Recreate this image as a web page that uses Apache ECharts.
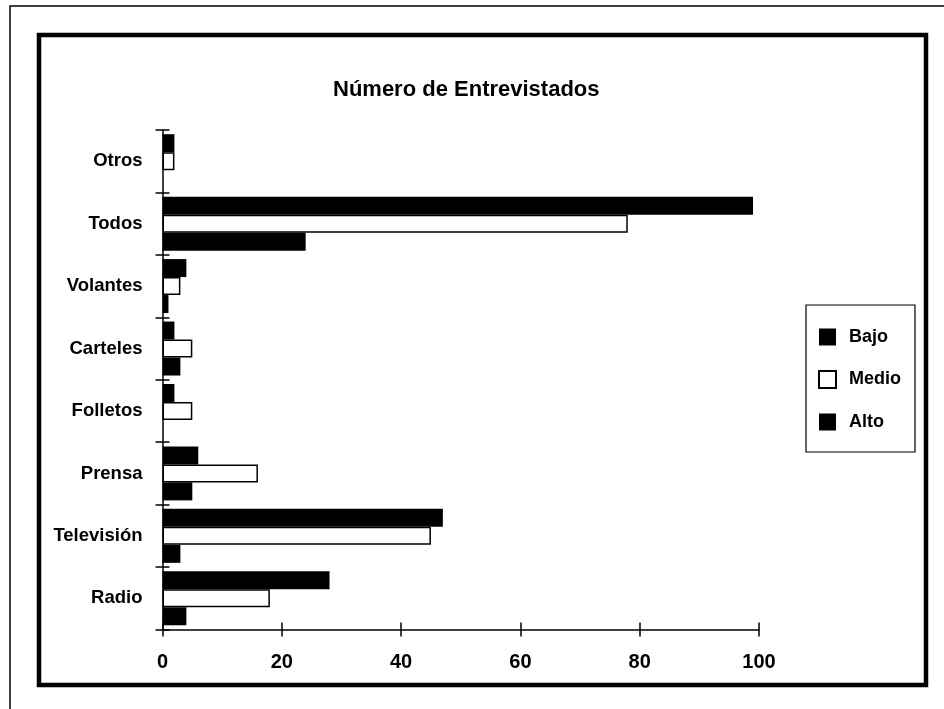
<!DOCTYPE html>
<html>
<head>
<meta charset="utf-8">
<script src="https://cdn.jsdelivr.net/npm/echarts@6/dist/echarts.min.js"></script>
<style>
  html, body { margin: 0; padding: 0; background: #fff; }
  #chart { width: 944px; height: 709px; }
</style>
</head>
<body>
<div id="chart"></div>
<script>
// categories, bottom to top like the y axis
var categories = ['Radio', 'Televisión', 'Prensa', 'Folletos', 'Carteles', 'Volantes', 'Todos', 'Otros'];
var bajo  = [28, 47, 6, 2, 2, 4, 99, 2];
var medio = [18, 45, 16, 5, 5, 3, 78, 2];
var alto  = [4, 3, 5, 0, 3, 1, 24, 0];
var xTicks = [0, 20, 40, 60, 80, 100];

var font = '"Liberation Sans", Arial, sans-serif';
var chart = echarts.init(document.getElementById('chart'));

var option = {
  animation: false,
  backgroundColor: '#fff',
  title: {
    text: 'Número de Entrevistados',
    left: 328, top: 74,
    textStyle: { fontFamily: font, fontSize: 22, fontWeight: 'bold', color: '#000' }
  },
  legend: {
    orient: 'vertical',
    left: 806, top: 305,
    data: ['Bajo', 'Medio', 'Alto'],
    itemWidth: 17, itemHeight: 17, itemGap: 24,
    padding: [23, 14, 21, 12],
    borderColor: '#000', borderWidth: 1.2,
    icon: 'rect',
    textStyle: { fontFamily: font, fontSize: 18, fontWeight: 'bold', color: '#000',
                 lineHeight: 17, padding: [0, 0, 0, 8] }
  },
  grid: { left: 162.5, right: 185, top: 130, bottom: 79.5 },
  xAxis: [{
    type: 'value', min: xTicks[0], max: xTicks[xTicks.length - 1], interval: 20,
    axisLine: { show: true, lineStyle: { color: '#000', width: 1.5 } },
    axisTick: { show: true, length: 7, lineStyle: { color: '#000', width: 1.5 } },
    axisLabel: { margin: 23, fontFamily: font, fontSize: 20, fontWeight: 'bold', color: '#000' },
    splitLine: { show: false }
  }, {
    type: 'value', position: 'bottom', min: 0, max: 100, interval: 20,
    axisLine: { show: false },
    axisTick: { show: true, inside: true, length: 7, lineStyle: { color: '#000', width: 1.5 } },
    axisLabel: { show: false },
    splitLine: { show: false }
  }],
  yAxis: [{
    type: 'category', data: categories,
    axisLine: { show: true, lineStyle: { color: '#000', width: 1.5 } },
    axisTick: { show: true, length: 7, lineStyle: { color: '#000', width: 1.5 } },
    axisLabel: { margin: 20, fontFamily: font, fontSize: 18.5, fontWeight: 'bold', color: '#000' }
  }, {
    type: 'category', data: categories, position: 'left',
    axisLine: { show: false },
    axisTick: { show: true, inside: true, length: 7, lineStyle: { color: '#000', width: 1.5 } },
    axisLabel: { show: false }
  }],
  series: [
    { name: 'Bajo', type: 'bar', data: bajo, barWidth: 18, barGap: '0%',
      itemStyle: { color: '#000' } },
    { name: 'Medio', type: 'bar', data: medio, barWidth: 18, barGap: '0%',
      itemStyle: { color: '#fff', borderColor: '#000', borderWidth: 1.5 } },
    { name: 'Alto', type: 'bar', data: alto, barWidth: 18, barGap: '0%',
      itemStyle: { color: '#000' } }
  ],
  graphic: [
    // thin page edge
    { type: 'polyline', shape: { points: [[10, 709], [10, 6], [944, 6]] },
      style: { stroke: '#000', lineWidth: 1.5, fill: null } },
    // thick frame round the chart
    { type: 'rect', shape: { x: 39, y: 35, width: 887, height: 650 },
      style: { stroke: '#000', lineWidth: 4.5, fill: null } }
  ]
};
chart.setOption(option);
</script>
</body>
</html>
